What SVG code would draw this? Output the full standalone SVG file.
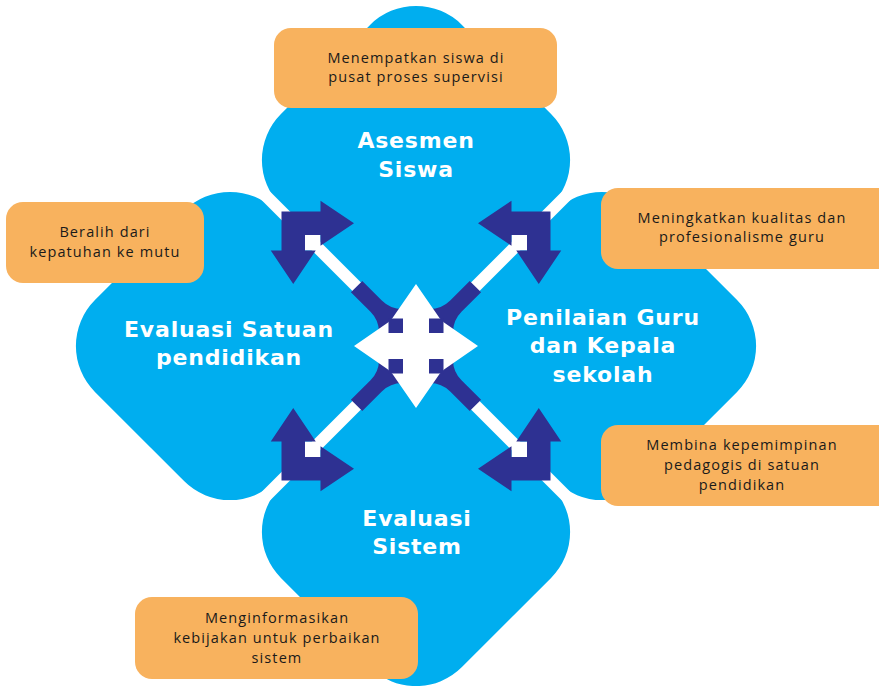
<svg xmlns="http://www.w3.org/2000/svg" xmlns:xlink="http://www.w3.org/1999/xlink" width="879" height="686" viewBox="0 0 879 686">
<style>
.blob{fill:#00AEEF}
.box{fill:#F8B25E}
.navy{fill:#2E3192}
.white{fill:#FFFFFF}
.lbl{font-family:"DejaVu Sans","Open Sans",sans-serif;font-weight:700;font-size:22px;fill:#FFFFFF;text-anchor:middle;letter-spacing:0.8px}
.txt{font-family:"Open Sans","Liberation Sans",sans-serif;font-size:14.5px;fill:#1A1A1A;text-anchor:middle;letter-spacing:1.1px}
</style>
<defs>
<rect id="rblob" x="-128" y="-128" width="256" height="256" rx="65" ry="65"/>
<path id="elbow" d="M-134.5,-134.5 H-95.5 V-145.25 L-62,-122.75 L-95.5,-100.25 V-111 H-111 V-95.5 H-100.25 L-122.75,-62 L-145.25,-95.5 H-134.5 Z"/>
<g id="diag">
<line x1="0" y1="0" x2="-200" y2="-200" stroke="#FFFFFF" stroke-width="12"/>
<rect x="-111" y="-111" width="15.5" height="15.5" fill="#FFFFFF"/>
</g>
</defs>
<rect width="879" height="686" fill="#FFFFFF"/>
<g id="node-asesmen">
<use xlink:href="#rblob" class="blob" transform="translate(416,160) rotate(45)"/>
</g>
<g id="node-evaluasi-satuan">
<use xlink:href="#rblob" class="blob" transform="translate(230,346) rotate(45)"/>
</g>
<g id="node-penilaian">
<use xlink:href="#rblob" class="blob" transform="translate(602,346) rotate(45)"/>
</g>
<g id="node-evaluasi-sistem">
<use xlink:href="#rblob" class="blob" transform="translate(416,532) rotate(45)"/>
</g>
<g id="connectors" transform="translate(416,346)">
<use xlink:href="#diag"/>
<use xlink:href="#diag" transform="scale(-1,1)"/>
<use xlink:href="#diag" transform="scale(1,-1)"/>
<use xlink:href="#diag" transform="scale(-1,-1)"/>
<use xlink:href="#elbow" class="navy"/>
<use xlink:href="#elbow" class="navy" transform="scale(-1,1)"/>
<use xlink:href="#elbow" class="navy" transform="scale(1,-1)"/>
<use xlink:href="#elbow" class="navy" transform="scale(-1,-1)"/>
<path class="navy" d="M-53.7,-65.1 L-34.2,-45.5 Q-25.7,-37 -13.7,-37 H13.7 Q25.7,-37 34.2,-45.5 L53.7,-65.1 L65.1,-53.7 L45.5,-34.2 Q37,-25.7 37,-13.7 V13.7 Q37,25.7 45.5,34.2 L65.1,53.7 L53.7,65.1 L34.2,45.5 Q25.7,37 13.7,37 H-13.7 Q-25.7,37 -34.2,45.5 L-53.7,65.1 L-65.1,53.7 L-45.5,34.2 Q-37,25.7 -37,13.7 V-13.7 Q-37,-25.7 -45.5,-34.2 L-65.1,-53.7 Z"/>
<path class="white" d="M0,-62 L23.5,-28 L28,-23.5 L62,0 L28,23.5 L23.5,28 L0,62 L-23.5,28 L-28,23.5 L-62,0 L-28,-23.5 L-23.5,-28 Z"/>
<rect class="navy" x="-27.5" y="-27.5" width="14.5" height="14.5"/>
<rect class="navy" x="13" y="-27.5" width="14.5" height="14.5"/>
<rect class="navy" x="-27.5" y="13" width="14.5" height="14.5"/>
<rect class="navy" x="13" y="13" width="14.5" height="14.5"/>
</g>
<g id="label-asesmen">
<text class="lbl" x="416" y="148">Asesmen</text>
<text class="lbl" x="416" y="177">Siswa</text>
</g>
<g id="label-evaluasi-satuan">
<text class="lbl" x="229" y="337">Evaluasi Satuan</text>
<text class="lbl" x="229" y="365">pendidikan</text>
</g>
<g id="label-penilaian">
<text class="lbl" x="603" y="325">Penilaian Guru</text>
<text class="lbl" x="603" y="353">dan Kepala</text>
<text class="lbl" x="603" y="382">sekolah</text>
</g>
<g id="label-evaluasi-sistem">
<text class="lbl" x="417" y="526">Evaluasi</text>
<text class="lbl" x="417" y="554">Sistem</text>
</g>
<g id="box-top">
<rect class="box" x="274" y="28" width="283" height="80" rx="17"/>
<text class="txt" x="416" y="63">Menempatkan siswa di</text>
<text class="txt" x="416" y="82">pusat proses supervisi</text>
</g>
<g id="box-left">
<rect class="box" x="6" y="202" width="198" height="81" rx="17"/>
<text class="txt" x="105" y="237">Beralih dari</text>
<text class="txt" x="105" y="257">kepatuhan ke mutu</text>
</g>
<g id="box-right-top">
<rect class="box" x="601" y="188" width="295" height="81" rx="17"/>
<text class="txt" x="742" y="223">Meningkatkan kualitas dan</text>
<text class="txt" x="742" y="242">profesionalisme guru</text>
</g>
<g id="box-right-bottom">
<rect class="box" x="601" y="425" width="295" height="81" rx="17"/>
<text class="txt" x="742" y="450">Membina kepemimpinan</text>
<text class="txt" x="742" y="470">pedagogis di satuan</text>
<text class="txt" x="742" y="490">pendidikan</text>
</g>
<g id="box-bottom">
<rect class="box" x="135" y="597" width="283" height="82" rx="17"/>
<text class="txt" x="277" y="623">Menginformasikan</text>
<text class="txt" x="277" y="643">kebijakan untuk perbaikan</text>
<text class="txt" x="277" y="663">sistem</text>
</g>
</svg>
